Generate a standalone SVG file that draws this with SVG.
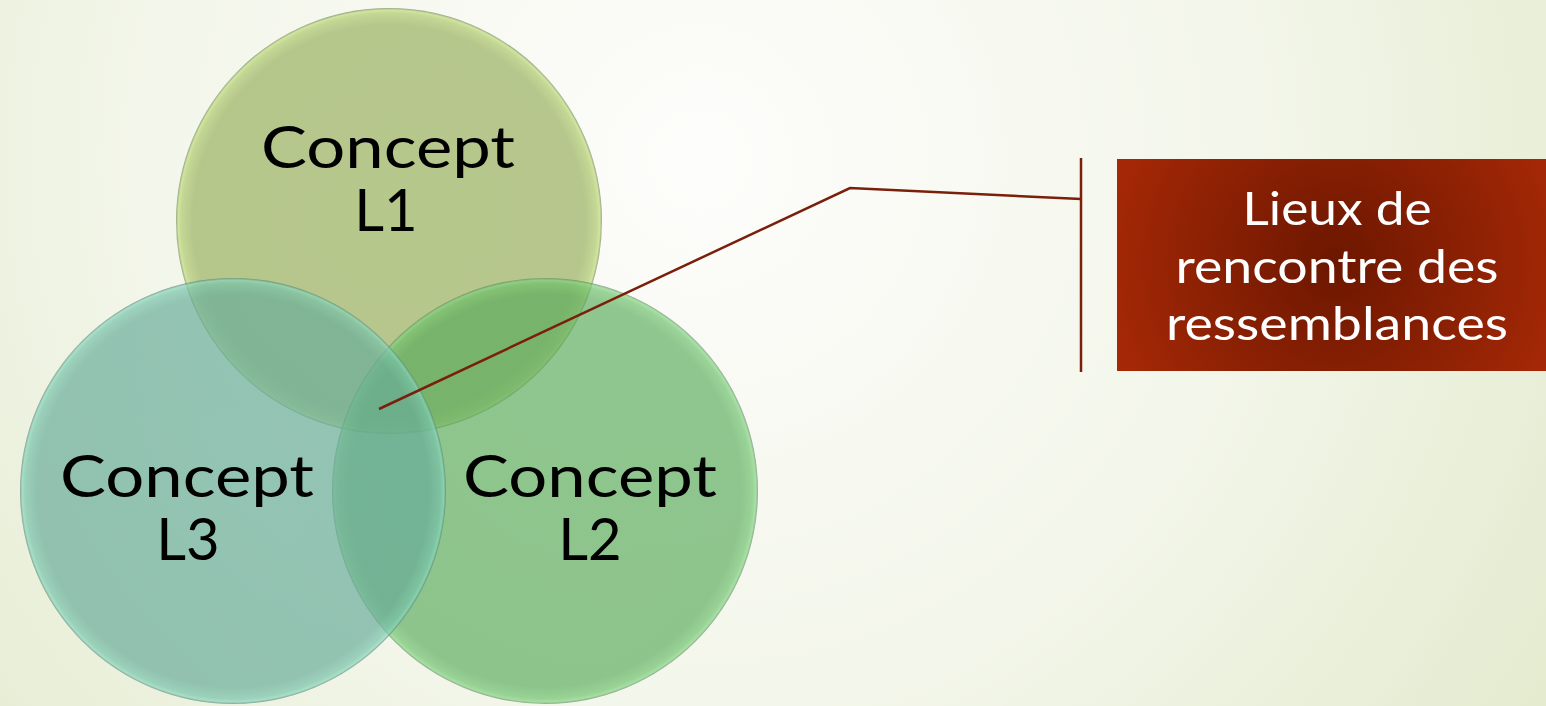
<svg xmlns="http://www.w3.org/2000/svg" width="1546" height="706" viewBox="0 0 1546 706">
  <defs>
    <radialGradient id="bg" cx="700" cy="160" r="1000" gradientUnits="userSpaceOnUse">
      <stop offset="0" stop-color="#fdfdfb"/>
      <stop offset="0.55" stop-color="#f3f6ea"/>
      <stop offset="1" stop-color="#e4ebcf"/>
    </radialGradient>
    <!-- disc fills: flat body, bright rim, darker outer line -->
    <radialGradient id="g1" cx="0.5" cy="0.5" r="0.5">
      <stop offset="0" stop-color="#b1c384"/>
      <stop offset="0.92" stop-color="#b0c283"/>
      <stop offset="0.975" stop-color="#bfd48c"/>
      <stop offset="0.99" stop-color="#cde397"/>
      <stop offset="1" stop-color="#8f9e7c"/>
    </radialGradient>
    <radialGradient id="g2" cx="0.5" cy="0.5" r="0.5">
      <stop offset="0" stop-color="#57aa59"/>
      <stop offset="0.92" stop-color="#56a958"/>
      <stop offset="0.975" stop-color="#67bf67"/>
      <stop offset="0.99" stop-color="#7dd27c"/>
      <stop offset="1" stop-color="#557f5a"/>
    </radialGradient>
    <radialGradient id="g3" cx="0.5" cy="0.5" r="0.5">
      <stop offset="0" stop-color="#69ad9a"/>
      <stop offset="0.92" stop-color="#68ac99"/>
      <stop offset="0.975" stop-color="#76c2aa"/>
      <stop offset="0.99" stop-color="#86d6bb"/>
      <stop offset="1" stop-color="#5a8078"/>
    </radialGradient>
    <radialGradient id="boxFill" cx="1335" cy="262" r="260" gradientUnits="userSpaceOnUse">
      <stop offset="0" stop-color="#6c1700"/>
      <stop offset="1" stop-color="#ab2a07"/>
    </radialGradient>
    <style>
      .lbl { font-family: Lato, "Liberation Sans", sans-serif; font-size: 58px; fill: #000; text-anchor: middle; }
      .callout { font-family: Lato, "Liberation Sans", sans-serif; font-size: 46px; fill: #fff; text-anchor: middle; }
      .conn { fill: none; stroke: #7a1f0a; stroke-width: 2.5; }
    </style>
  </defs>

  <rect width="1546" height="706" fill="url(#bg)"/>

  <g id="concept-l1" opacity="0.92">
    <circle cx="389" cy="221" r="213" fill="url(#g1)"/>
  </g>
  <g id="concept-l2" opacity="0.65">
    <circle cx="545" cy="491" r="213" fill="url(#g2)"/>
  </g>
  <g id="concept-l3" opacity="0.69">
    <circle cx="233" cy="491" r="213" fill="url(#g3)"/>
  </g>

  <g id="labels">
    <text class="lbl" x="388" y="168" textLength="254" lengthAdjust="spacingAndGlyphs">Concept</text>
    <text class="lbl" x="386" y="231">L1</text>
    <text class="lbl" x="187" y="497" textLength="254" lengthAdjust="spacingAndGlyphs">Concept</text>
    <text class="lbl" x="188" y="560">L3</text>
    <text class="lbl" x="590" y="497" textLength="254" lengthAdjust="spacingAndGlyphs">Concept</text>
    <text class="lbl" x="590" y="560">L2</text>
  </g>

  <g id="connectors">
    <polyline class="conn" points="379,409 850,188 1081,199"/>
    <line class="conn" x1="1081" y1="158" x2="1081" y2="372"/>
  </g>

  <g id="callout-box">
    <rect x="1117" y="159" width="429" height="212" fill="url(#boxFill)"/>
    <text class="callout" x="1337" y="225" textLength="189" lengthAdjust="spacingAndGlyphs">Lieux de</text>
    <text class="callout" x="1337" y="283" textLength="323" lengthAdjust="spacingAndGlyphs">rencontre des</text>
    <text class="callout" x="1337" y="340" textLength="342" lengthAdjust="spacingAndGlyphs">ressemblances</text>
  </g>
</svg>
